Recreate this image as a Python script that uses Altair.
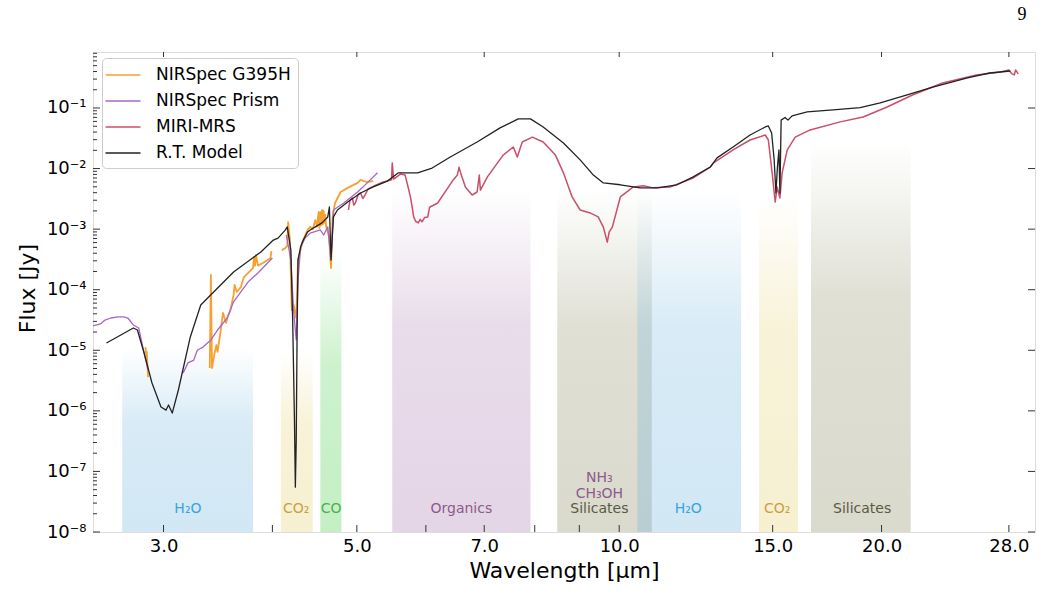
import altair as alt
import pandas as pd

# ---- spectra -------------------------------------------------------------
model_wl = [2.58, 2.68, 2.77, 2.80, 2.85, 2.91, 2.98, 3.02, 3.04, 3.07, 3.12, 3.22, 3.31, 3.61, 3.88,
            4.01, 4.06, 4.14, 4.16, 4.20, 4.22, 4.24, 4.25, 4.26, 4.27, 4.28, 4.31, 4.34, 4.39, 4.42,
            4.48, 4.56, 4.63, 4.65, 4.67, 4.70, 4.75, 4.88, 5.05, 5.22, 5.42, 5.58, 5.87, 6.10, 6.40,
            6.87, 7.30, 7.66, 7.91, 8.18, 8.63, 9.02, 9.34, 9.59, 10.03, 10.57, 11.06, 11.65, 12.16,
            12.72, 12.95, 13.51, 14.13, 14.71, 14.83, 14.96, 15.06, 15.13, 15.19, 15.25, 15.29, 15.34,
            15.50, 15.62, 15.79, 16.43, 17.6, 18.9, 19.93, 21.4, 22.9, 25.1, 26.6, 28.1]
model_flux = [1.32e-5, 1.79e-5, 2.33e-5, 2.16e-5, 9.0e-6, 2.88e-6, 1.16e-6, 1.03e-6, 1.25e-6, 9.2e-7,
              2.21e-6, 1.66e-5, 5.6e-5, 1.96e-4, 4.2e-4, 6.6e-4, 7.1e-4, 9.7e-4, 1.09e-3, 4.5e-4,
              3.16e-5, 7.1e-7, 5.5e-8, 3.3e-7, 2.16e-5, 3.1e-4, 5.1e-4, 6.6e-4, 9.0e-4, 9.7e-4,
              1.09e-3, 1.27e-3, 1.59e-3, 2.32e-3, 3.1e-4, 1.59e-3, 2.07e-3, 2.8e-3, 3.95e-3, 4.97e-3,
              6.2e-3, 8.5e-3, 8.5e-3, 1.02e-2, 1.55e-2, 2.75e-2, 4.7e-2, 6.6e-2, 6.6e-2, 4.86e-2,
              2.64e-2, 1.39e-2, 7.8e-3, 5.8e-3, 5.4e-3, 4.8e-3, 4.8e-3, 5.4e-3, 7.3e-3, 1.06e-2,
              1.5e-2, 2.27e-2, 3.58e-2, 4.86e-2, 5.05e-2, 3.87e-2, 1.39e-2, 3.95e-3, 1.06e-2, 2.03e-2,
              3.95e-3, 6.3e-2, 6.97e-2, 6.3e-2, 7.4e-2, 8.6e-2, 9.3e-2, 0.101, 0.121, 0.164, 0.222,
              0.313, 0.378, 0.408]

miri_wl = [4.89, 4.91, 4.94, 4.96, 4.98, 5.02, 5.05, 5.08, 5.11, 5.15, 5.18, 5.27, 5.36, 5.48, 5.49,
           5.51, 5.61, 5.68, 5.72, 5.76, 5.79, 5.81, 5.84, 5.88, 5.91, 5.94, 5.98, 6.03, 6.06, 6.19,
           6.37, 6.45, 6.52, 6.55, 6.59, 6.66, 6.78, 6.87, 6.91, 6.93, 7.06, 7.25, 7.36, 7.56, 7.64,
           7.74, 7.95, 8.18, 8.45, 8.63, 8.83, 9.02, 9.26, 9.46, 9.59, 9.69, 9.74, 9.82, 10.03, 10.38,
           10.66, 10.94, 11.44, 12.16, 12.72, 12.83, 13.51, 14.13, 14.71, 14.83, 14.98, 15.10, 15.18,
           15.29, 15.38, 15.59, 15.92, 16.56, 17.93, 19.05, 20.3, 21.7, 23.5, 25.7, 27.4, 28.0, 28.2,
           28.4, 28.5, 28.7]
miri_flux = [2.07e-3, 3.0e-3, 3.27e-3, 2.5e-3, 2.7e-3, 3.8e-3, 3.95e-3, 3.2e-3, 3.66e-3, 4.6e-3,
             4.8e-3, 5.4e-3, 6.0e-3, 6.5e-3, 1.24e-2, 6.7e-3, 8.1e-3, 7.8e-3, 5.2e-3, 3.4e-3, 2.2e-3,
             1.59e-3, 1.35e-3, 1.27e-3, 1.45e-3, 1.32e-3, 1.55e-3, 1.59e-3, 2.3e-3, 2.7e-3, 4.97e-3,
             6.5e-3, 7.8e-3, 1.05e-2, 7.8e-3, 4.97e-3, 3.66e-3, 4.1e-3, 7.8e-3, 4.4e-3, 7.3e-3,
             1.24e-2, 1.67e-2, 2.27e-2, 1.55e-2, 2.75e-2, 3.3e-2, 2.75e-2, 1.67e-2, 8.5e-3, 3.4e-3,
             2.07e-3, 1.85e-3, 1.59e-3, 1.08e-3, 6.1e-4, 9.0e-4, 1.08e-3, 3.4e-3, 4.97e-3, 5.2e-3,
             4.8e-3, 4.97e-3, 7.0e-3, 1.06e-2, 1.24e-2, 2.03e-2, 2.96e-2, 3.58e-2, 2.96e-2, 8.5e-3,
             2.8e-3, 4.97e-3, 3.27e-3, 8.5e-3, 2.03e-2, 3.3e-2, 4.34e-2, 5.9e-2, 7.1e-2, 0.104,
             0.164, 0.259, 0.351, 0.394, 0.425, 0.37, 0.351, 0.425, 0.365]

prism_wl = [2.49, 2.54, 2.57, 2.61, 2.66, 2.70, 2.73, 2.77, 2.81, 2.85, 2.88,
            3.16, 3.20, 3.25, 3.28, 3.33, 3.40, 3.46, 3.55, 3.61, 3.75, 3.85, 4.00,
            4.15, 4.20, 4.23, 4.26, 4.28, 4.31, 4.36, 4.42, 4.54, 4.58, 4.63, 4.67, 4.70, 4.83,
            5.01, 5.14, 5.28]
prism_flux = [2.52e-5, 2.72e-5, 3.16e-5, 3.41e-5, 3.55e-5, 3.55e-5, 3.41e-5, 2.62e-5, 2.33e-5,
              9.0e-6, 4.73e-6,
              4.2e-6, 6.2e-6, 6.9e-6, 1.0e-5, 1.13e-5, 1.48e-5, 2.16e-5, 3.41e-5, 6.3e-5, 1.34e-4,
              1.89e-4, 3.34e-4,
              8.0e-4, 3.1e-4, 4.6e-5, 1.48e-5, 1.45e-4, 5.1e-4, 7.1e-4, 8.6e-4, 9.7e-4, 8.0e-4,
              1.09e-3, 3.1e-4, 2.07e-3, 2.7e-3, 4.1e-3, 5.8e-3, 8.5e-3]
prism_seg = [1] * 11 + [2] * 12 + [3] * 17

g395_wl = [2.86, 2.87, 2.87, 2.88,
           3.39, 3.40, 3.41, 3.43, 3.45, 3.46, 3.49, 3.51, 3.54, 3.55, 3.58, 3.61, 3.62, 3.64, 3.68,
           3.71, 3.80, 3.81, 3.82, 3.83, 3.85, 3.90, 3.95, 3.98, 3.99,
           4.10, 4.14, 4.16, 4.17, 4.19, 4.21, 4.23, 4.26, 4.28, 4.33, 4.39, 4.42, 4.45, 4.48, 4.50,
           4.52, 4.53, 4.54, 4.55, 4.56, 4.57, 4.58, 4.59, 4.60, 4.61, 4.63, 4.645, 4.67, 4.69, 4.72,
           4.79, 4.88, 5.01, 5.05, 5.13, 5.22]
g395_flux = [1.13e-5, 6.9e-6, 9.4e-6, 3.6e-6,
             5.1e-6, 1.75e-4, 5.1e-6, 8.4e-6, 1.22e-5, 9.4e-6, 2.16e-5, 4.13e-5, 2.83e-5, 3.41e-5,
             4.6e-5, 8.2e-5, 1.2e-4, 9.2e-5, 1.11e-4, 1.62e-4, 2.28e-4, 3.47e-4, 2.47e-4, 3.74e-4,
             2.5e-4, 2.76e-4, 3.1e-4, 3.34e-4, 4.35e-4,
             4.5e-4, 4.9e-4, 5.3e-4, 1.31e-3, 6.6e-4, 4.6e-5, 5.6e-5, 3.41e-5, 3.1e-4, 6.1e-4,
             9.7e-4, 1.09e-3, 1.0e-3, 1.41e-3, 1.1e-3, 1.92e-3, 1.05e-3, 1.9e-3, 1.17e-3, 2.07e-3,
             1.2e-3, 2.0e-3, 1.27e-3, 1.71e-3, 1.1e-3, 9.0e-4, 7.7e-4, 2.28e-4, 1.59e-3, 2.7e-3,
             4.1e-3, 4.8e-3, 5.8e-3, 6.5e-3, 6.0e-3, 6.2e-3]
g395_seg = [1] * 4 + [2] * 25 + [3] * 36

series_names = ["NIRSpec G395H", "NIRSpec Prism", "MIRI-MRS", "R.T. Model"]
series_colors = ["#f6a030", "#a866c8", "#c94f6b", "#222222"]

# ---- absorption bands ----------------------------------------------------
band_start = [2.69, 4.09, 4.54, 5.49, 8.49, 10.49, 14.47, 16.6]
band_end = [3.80, 4.45, 4.80, 7.91, 10.9, 13.8, 16.04, 21.6]
band_top = [1.1e-5, 1.0e-5, 4.0e-4, 4.5e-3, 4.5e-3, 4.5e-3, 3.8e-3, 2.8e-2]
band_rgb = [(112, 182, 222), (228, 208, 112), (72, 205, 72), (172, 125, 178),
            (138, 138, 98), (112, 182, 222), (228, 208, 112), (138, 138, 98)]

label_text = ["H₂O", "CO₂", "CO", "Organics", "NH₃", "CH₃OH", "Silicates", "H₂O", "CO₂", "Silicates"]
label_wl = [3.20, 4.26, 4.67, 6.59, 9.49, 9.49, 9.49, 12.0, 15.18, 19.0]
label_flux = [2.4e-8, 2.4e-8, 2.4e-8, 2.4e-8, 7.8e-8, 4.24e-8, 2.4e-8, 2.4e-8, 2.4e-8, 2.4e-8]
label_color = ["#3ba3dc", "#c9a13c", "#4caf50", "#8c5a8c", "#8c5a8c", "#8c5a8c", "#5a5a42",
               "#3ba3dc", "#c9a13c", "#5a5a42"]

# ---- axis ticks ----------------------------------------------------------
x_major = [3, 5, 7, 10, 15, 20, 28]
x_minor = [4, 6, 8, 9]
y_major = [1e-8, 1e-7, 1e-6, 1e-5, 1e-4, 1e-3, 1e-2, 1e-1]
y_minor = [k * 10.0 ** e for e in range(-8, 0) for k in range(2, 10) if k * 10.0 ** e < 0.84]

W, H = 942, 480
FONT = "DejaVu Sans"

xscale = alt.Scale(type="log", domain=[2.49, 30.0], nice=False)
yscale = alt.Scale(type="log", domain=[1e-8, 0.84], nice=False)
cscale = alt.Scale(domain=series_names, range=series_colors)

xaxis = alt.Axis(values=x_major, format=".1f", ticks=False, domain=False, grid=False,
                 labelFont=FONT, labelFontSize=18, labelColor="black", labelPadding=5,
                 labelOverlap=False, labelFlush=False,
                 title="Wavelength [μm]", titleFont=FONT, titleFontSize=22,
                 titleFontWeight="normal", titleColor="black",
                 titleX=W / 2, titleY=38, titleBaseline="middle")
yaxis = alt.Axis(values=y_major, ticks=False, domain=False, grid=False,
                 labelExpr="'10⁻' + ['⁰','¹','²','³','⁴','⁵','⁶','⁷','⁸','⁹'][abs(round(log(datum.value)/LN10))]",
                 labelFont=FONT, labelFontSize=18, labelColor="black", labelPadding=7,
                 labelOverlap=False, labelFlush=False,
                 title="Flux [Jy]", titleFont=FONT, titleFontSize=22,
                 titleFontWeight="normal", titleColor="black",
                 titleX=-66, titleY=236, titleBaseline="middle", titleAlign="center")

X = lambda f="wl": alt.X(f"{f}:Q", scale=xscale, axis=xaxis)
Y = lambda f="flux": alt.Y(f"{f}:Q", scale=yscale, axis=yaxis)

# a horizontal stroke twice as wide as the nominal symbol box keeps the rows compact
legend = alt.Legend(orient="none", legendX=9, legendY=6, title=None, symbolType="M-2,0H2",
                    symbolSize=306, symbolOffset=4, symbolStrokeWidth=1.6,
                    labelFont=FONT, labelFontSize=17, labelColor="black", labelOffset=23,
                    rowPadding=8, padding=7,
                    strokeColor="#cccccc", fillColor="rgba(255,255,255,0.85)", cornerRadius=4)

# shaded bands, each fading out towards its top
bands_df = pd.DataFrame({"wl": band_start, "wl2": band_end, "flux": band_top})
band_layers = []
for i, (r, g, b) in enumerate(band_rgb):
    fill = alt.Gradient(
        gradient="linear", x1=0, x2=0, y1=0, y2=1,
        stops=[alt.GradientStop(offset=0, color=f"rgba({r},{g},{b},0)"),
               alt.GradientStop(offset=0.4, color=f"rgba({r},{g},{b},0.27)"),
               alt.GradientStop(offset=1, color=f"rgba({r},{g},{b},0.32)")])
    band_layers.append(
        alt.Chart(bands_df.iloc[[i]]).mark_rect(fill=fill).encode(
            x=X(), x2="wl2:Q", y=Y(), y2=alt.value(H)))

labels_df = pd.DataFrame({"wl": label_wl, "flux": label_flux, "txt": label_text, "col": label_color})
labels = alt.Chart(labels_df).mark_text(font=FONT, fontSize=14, align="center", baseline="middle").encode(
    x=X(), y=Y(), text="txt:N", color=alt.Color("col:N", scale=None))


def spectrum(name, wl, flux, seg, width):
    df = pd.DataFrame({"wl": wl, "flux": flux, "seg": seg, "series": name})
    df["i"] = range(len(df))
    return alt.Chart(df).mark_line(strokeWidth=width, strokeJoin="round").encode(
        x=X(), y=Y(),
        color=alt.Color("series:N", scale=cscale, legend=legend),
        detail="seg:N", order="i:Q")


g395 = spectrum("NIRSpec G395H", g395_wl, g395_flux, g395_seg, 1.8)
prism = spectrum("NIRSpec Prism", prism_wl, prism_flux, prism_seg, 1.3)
miri = spectrum("MIRI-MRS", miri_wl, miri_flux, [1] * len(miri_wl), 1.5)
model = spectrum("R.T. Model", model_wl, model_flux, [1] * len(model_wl), 1.3)

# inward ticks on all four sides
tick_col = "#333333"
xt_major = pd.DataFrame({"wl": x_major})
xt_minor = pd.DataFrame({"wl": x_minor})
yt_major = pd.DataFrame({"flux": y_major})
yt_minor = pd.DataFrame({"flux": y_minor})
ticks = [
    alt.Chart(xt_major).mark_rule(color=tick_col).encode(x=X(), y=alt.value(H), y2=alt.value(H - 7)),
    alt.Chart(xt_minor).mark_rule(color=tick_col).encode(x=X(), y=alt.value(H), y2=alt.value(H - 7)),
    alt.Chart(xt_major).mark_rule(color=tick_col).encode(x=X(), y=alt.value(0), y2=alt.value(5)),
    alt.Chart(yt_major).mark_rule(color=tick_col).encode(y=Y(), x=alt.value(0), x2=alt.value(7)),
    alt.Chart(yt_minor).mark_rule(color=tick_col).encode(y=Y(), x=alt.value(0), x2=alt.value(4)),
    alt.Chart(yt_major).mark_rule(color=tick_col).encode(y=Y(), x=alt.value(W), x2=alt.value(W - 7)),
]

page_no = alt.Chart(pd.DataFrame({"t": ["9"]})).mark_text(
    font="Liberation Serif", fontSize=18, align="center", baseline="middle", color="black").encode(
    text="t:N", x=alt.value(929), y=alt.value(-37))

chart = alt.layer(*band_layers, labels, g395, prism, miri, model, *ticks, page_no).properties(
    width=W, height=H,
    padding={"left": 93, "top": 52, "right": 7, "bottom": 83},
    autosize=alt.AutoSizeParams(type="none"),
).configure_view(stroke="#222222", strokeWidth=1).configure(background="white")

chart.save("out.html", embed_options={"renderer": "svg", "actions": False})
